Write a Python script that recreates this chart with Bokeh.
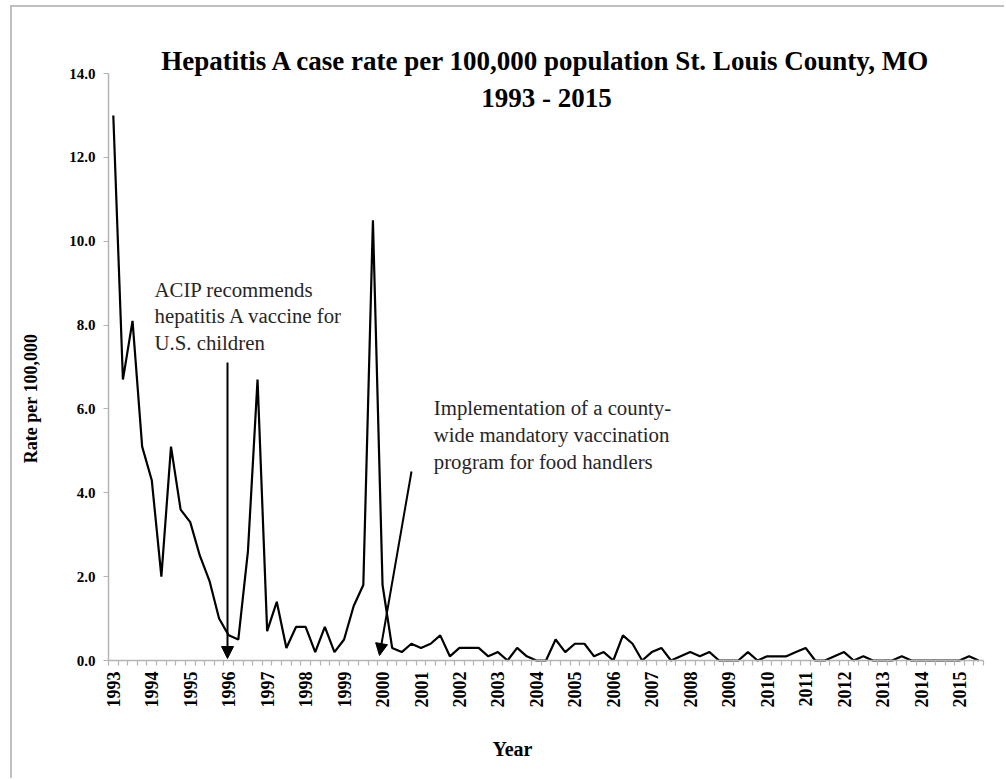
import math
from bokeh.plotting import figure
from bokeh.models import (Range1d, FixedTicker, PrintfTickFormatter, Label,
                          Arrow, NormalHead, ColumnDataSource)
from bokeh.embed import file_html
from bokeh.resources import INLINE

# ---------------- data ----------------
year_labels = ["1993", "1994", "1995", "1996", "1997", "1998", "1999", "2000",
               "2001", "2002", "2003", "2004", "2005", "2006", "2007", "2008",
               "2009", "2010", "2011", "2012", "2013", "2014", "2015"]

# quarterly rates per 100,000 (1993 Q1 ... 2015 Q3)
rates = [
    13.0, 6.7, 8.1, 5.1,    # 1993
    4.3, 2.0, 5.1, 3.6,     # 1994
    3.3, 2.5, 1.9, 1.0,     # 1995
    0.6, 0.5, 2.6, 6.7,     # 1996
    0.7, 1.4, 0.3, 0.8,     # 1997
    0.8, 0.2, 0.8, 0.2,     # 1998
    0.5, 1.3, 1.8, 10.5,    # 1999
    1.8, 0.3, 0.2, 0.4,     # 2000
    0.3, 0.4, 0.6, 0.1,     # 2001
    0.3, 0.3, 0.3, 0.1,     # 2002
    0.2, 0.0, 0.3, 0.1,     # 2003
    0.0, 0.0, 0.5, 0.2,     # 2004
    0.4, 0.4, 0.1, 0.2,     # 2005
    0.0, 0.6, 0.4, 0.0,     # 2006
    0.2, 0.3, 0.0, 0.1,     # 2007
    0.2, 0.1, 0.2, 0.0,     # 2008
    0.0, 0.0, 0.2, 0.0,     # 2009
    0.1, 0.1, 0.1, 0.2,     # 2010
    0.3, 0.0, 0.0, 0.1,     # 2011
    0.2, 0.0, 0.1, 0.0,     # 2012
    0.0, 0.0, 0.1, 0.0,     # 2013
    0.0, 0.0, 0.0, 0.0,     # 2014
    0.0, 0.1, 0.0,          # 2015
]
quarter_index = list(range(len(rates)))
year_tick_index = [4 * i for i in range(len(year_labels))]
y_ticks = [0, 2, 4, 6, 8, 10, 12, 14]
y_max = 14

# ---------------- geometry (page pixels) ----------------
OX, OY = 12, 7                 # canvas origin on the page (margin + border)
CW, CH = 1006 - OX, 780 - OY   # canvas size
AX_L, AX_R = 108, 983          # x extent of the axis line
AX_T, AX_B = 73, 660           # y of 14.0 and 0.0
n = len(rates)
sx = (AX_R - AX_L) / n
sy = (AX_B - AX_T) / y_max
x0 = -0.5 - (AX_L - OX) / sx
x1 = x0 + CW / sx
y1 = (AX_B - OY) / sy
y0 = y1 - CH / sy


def px(x):   # page x -> data x
    return x0 + (x - OX) / sx


def py(y):   # page y -> data y
    return y1 - (y - OY) / sy


SERIF = "Liberation Serif"
AXIS_GRAY = "#b4b4b4"

p = figure(width=CW, height=CH, title=None, toolbar_location=None,
           output_backend="svg",
           x_range=Range1d(x0, x1), y_range=Range1d(y0, y1),
           min_border_left=0, min_border_right=0, min_border_top=0,
           min_border_bottom=0, margin=(5, 0, 0, 10))
p.styles = {"border-top": "2px solid #c0c0c0", "border-left": "2px solid #c0c0c0"}
p.background_fill_color = "white"
p.border_fill_color = "white"
p.outline_line_color = None
p.xgrid.visible = False
p.ygrid.visible = False

src = ColumnDataSource(dict(x=quarter_index, y=rates))
p.line("x", "y", source=src, line_color="black", line_width=2.2)

# x axis
xa = p.xaxis[0]
xa.fixed_location = 0
xa.bounds = (-0.5, n - 0.5)
xa.ticker = FixedTicker(ticks=year_tick_index,
                        minor_ticks=[k - 0.5 for k in range(n + 1)])
xa.major_label_overrides = {t: lab for t, lab in zip(year_tick_index, year_labels)}
xa.major_label_orientation = math.pi / 2
xa.major_tick_line_color = None
xa.major_tick_out = 5
xa.major_tick_in = 0
xa.minor_tick_out = 5
xa.minor_tick_in = 0
xa.minor_tick_line_color = AXIS_GRAY
xa.minor_tick_line_width = 1.2
xa.axis_line_color = AXIS_GRAY
xa.axis_line_width = 1.5
xa.major_label_standoff = 6
xa.major_label_text_font = SERIF
xa.major_label_text_font_style = "bold"
xa.major_label_text_font_size = "18px"
xa.major_label_text_color = "black"

# y axis
ya = p.yaxis[0]
ya.fixed_location = -0.5
ya.bounds = (0, y_max)
ya.ticker = FixedTicker(ticks=y_ticks, minor_ticks=[])
ya.formatter = PrintfTickFormatter(format="%.1f")
ya.major_tick_out = 5
ya.major_tick_in = 0
ya.major_tick_line_color = AXIS_GRAY
ya.major_tick_line_width = 1.2
ya.axis_line_color = AXIS_GRAY
ya.axis_line_width = 1.5
ya.major_label_standoff = 8
ya.major_label_text_font = SERIF
ya.major_label_text_font_style = "bold"
ya.major_label_text_font_size = "15px"
ya.major_label_text_color = "black"


def add_label(x, y, text, size, bold=False, align="left", baseline="alphabetic",
              angle=0.0, color="black"):
    p.add_layout(Label(x=px(x), y=py(y), text=text, text_font=SERIF,
                       text_font_size=size,
                       text_font_style="bold" if bold else "normal",
                       text_align=align, text_baseline=baseline, angle=angle,
                       text_color=color))


# titles
add_label(546, 60, "Hepatitis A case rate per 100,000 population St. Louis County, MO",
          "27px", bold=True, align="center", baseline="middle")
add_label(546, 97, "1993 - 2015", "27px", bold=True, align="center", baseline="middle")

# axis titles
add_label(30, 398, "Rate per 100,000", "18px", bold=True, align="center",
          baseline="middle", angle=math.pi / 2)
add_label(512, 748, "Year", "20px", bold=True, align="center", baseline="middle")

# annotations
TXT = "#262626"
for yy, t in zip([289, 315, 342],
                 ["ACIP recommends", "hepatitis A vaccine for", "U.S. children"]):
    add_label(154, yy, t, "20.8px", color=TXT)
for yy, t in zip([406.5, 433.5, 460.5],
                 ["Implementation of a county-", "wide mandatory vaccination",
                  "program for food handlers"]):
    add_label(433.3, yy, t, "20.8px", color=TXT)

p.add_layout(Arrow(end=NormalHead(size=12, fill_color="black", line_color="black"),
                   x_start=px(227), y_start=py(362), x_end=px(227), y_end=py(658),
                   line_color="black", line_width=2))
p.add_layout(Arrow(end=NormalHead(size=12, fill_color="black", line_color="black"),
                   x_start=px(411), y_start=py(471), x_end=px(379), y_end=py(655),
                   line_color="black", line_width=2))

open("out.html", "w").write(file_html(p, INLINE))
